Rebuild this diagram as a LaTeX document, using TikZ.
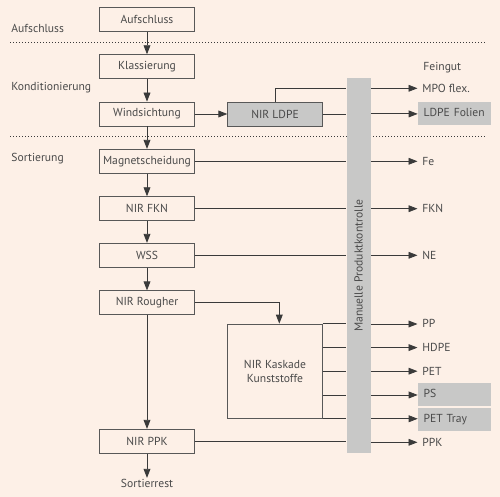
\documentclass[tikz,border=0pt]{standalone}
\usepackage{fontspec}
\setmainfont{PT Sans}
\usetikzlibrary{arrows.meta,calc}
\definecolor{bg}{HTML}{FDF0E7}
\definecolor{txt}{HTML}{4A4A4A}
\definecolor{ln}{HTML}{3A3A3A}
\definecolor{gr}{HTML}{C8C8C7}
\begin{document}
\begin{tikzpicture}[x=1pt,y=-1pt,
  font=\fontsize{11.6}{13}\selectfont, text=txt,
  line width=0.8pt, draw=ln,
  box/.style={draw=ln!85, line width=0.8pt, minimum width=94.5pt, minimum height=24pt, inner sep=0pt},
  gbox/.style={box, fill=gr},
  arr/.style={draw=ln, -{Triangle[length=9pt,width=6.8pt]}},
  ln/.style={draw=ln},
  dot/.style={draw=ln, line width=0.9pt, dash pattern=on 0.9pt off 2.1pt},
  outlab/.style={anchor=west, inner xsep=4.5pt, inner ysep=0pt, text height=7.8pt, text depth=0pt},
  sidelab/.style={anchor=base west, inner sep=0pt},
  outbox/.style={anchor=west, fill=gr, minimum height=23.2pt, text width=61.6pt, inner xsep=5.5pt, inner ysep=0pt, align=left, text height=7.8pt, text depth=2pt}
]
\fill[bg] (0,0) rectangle (500,497);
\useasboundingbox (0,0) rectangle (500,497);

% section labels
\node[sidelab] (l1) at (11,32.3) {Aufschluss};
\node[sidelab] (l2) at (11,91) {Konditionierung};
\node[sidelab] (l3) at (11,161) {Sortierung};

% dotted separators
\coordinate (d1a) at (10,42.7); \coordinate (d1b) at (486,42.7);
\coordinate (d2a) at (10,136);  \coordinate (d2b) at (486,136);
\draw[dot] (d1a) -- (d1b);
\draw[dot] (d2a) -- (d2b);

% main chain
\node[box] (auf)  at (147,19.5)  {Aufschluss};
\node[box] (kla)  at (147,66.7)  {Klassierung};
\node[box] (wind) at (147,114)   {Windsichtung};
\node[box] (mag)  at (147,161.3) {Magnetscheidung};
\node[box] (fkn)  at (147,208.7) {NIR FKN};
\node[box] (wss)  at (147,255.3) {WSS};
\node[box] (roug) at (147,302.8) {NIR Rougher};
\node[box] (ppk)  at (147,441.3) {NIR PPK};
\node[inner sep=1pt] (rest) at (147,483.5) {Sortierrest};

\draw[arr] (auf) -- (kla);
\draw[arr] (kla) -- (wind);
\draw[arr] (wind) -- (mag);
\draw[arr] (mag) -- (fkn);
\draw[arr] (fkn) -- (wss);
\draw[arr] (wss) -- (roug);
\draw[arr] (roug) -- (ppk);
\draw[arr] (ppk) -- (rest);

% side boxes
\node[gbox] (ldpe) at (275,114) {NIR LDPE};
\node[box, minimum height=94.3pt, align=center, font=\fontsize{11.6}{14}\selectfont] (kask) at (275,371.2) {NIR Kaskade\\Kunststoffe};

% bar
\node[fill=gr, minimum width=24pt, minimum height=375pt, inner sep=0pt] (bar) at (358.7,265.8) {};
\node[rotate=90, inner sep=0pt] (barlab) at (bar.center) {Manuelle Produktkontrolle};

% outputs
\node[sidelab] (fein) at (423,70.7) {Feingut};
\node[outlab] (mpo)  at (417.5,88.3)  {MPO flex.};
\node[outbox] (ldpef) at (417.7,113.9) {LDPE Folien};
\node[outlab] (fe)   at (417.5,161.3) {Fe};
\node[outlab] (fknout) at (417.5,208.7) {FKN};
\node[outlab] (ne)   at (417.5,255.3) {NE};
\node[outlab] (pp)   at (417.5,324)   {PP};
\node[outlab] (hdpe) at (417.5,347.6) {HDPE};
\node[outlab] (pet)  at (417.5,371.2) {PET};
\node[outbox] (ps)   at (417.7,394.6) {PS};
\node[outbox] (pett) at (417.7,419.4) {PET Tray};
\node[outlab] (ppkout) at (417.5,442.3) {PPK};

% LDPE connections
\draw[arr] (wind) -- (ldpe);
\draw[ln] (ldpe.east) -- (ldpe.east -| bar.west);
\draw[ln] (ldpe.north) |- (bar.west |- mpo.west);

% lines into the bar
\draw[ln] (mag.east) -- (mag.east -| bar.west);
\draw[ln] (fkn.east) -- (fkn.east -| bar.west);
\draw[ln] (wss.east) -- (wss.east -| bar.west);
\draw[ln] (ppk.east) -- (ppk.east -| bar.west);
\draw[arr] (roug.east) -| ([xshift=4.3pt]kask.north);

\coordinate (k1) at (kask.north east);
\coordinate (k2) at ($(kask.north east)!0.25!(kask.south east)$);
\coordinate (k3) at ($(kask.north east)!0.5!(kask.south east)$);
\coordinate (k4) at ($(kask.north east)!0.75!(kask.south east)$);
\coordinate (k5) at (kask.south east);
\foreach \k in {k1,k2,k3,k4,k5} \draw[ln] (\k) -- (\k -| bar.west);

% arrows out of the bar
\draw[arr] (bar.east |- mpo.west) -- (mpo.west);
\draw[arr] (bar.east |- ldpef.west) -- (ldpef.west);
\draw[arr] (bar.east |- fe.west) -- (fe.west);
\draw[arr] (bar.east |- fknout.west) -- (fknout.west);
\draw[arr] (bar.east |- ne.west) -- (ne.west);
\draw[arr] (bar.east |- pp.west) -- (pp.west);
\draw[arr] (bar.east |- hdpe.west) -- (hdpe.west);
\draw[arr] (bar.east |- pet.west) -- (pet.west);
\draw[arr] (k4 -| bar.east) -- (k4 -| ps.west);
\draw[arr] (k5 -| bar.east) -- (k5 -| pett.west);
\draw[arr] (bar.east |- ppkout.west) -- (ppkout.west);
\end{tikzpicture}
\end{document}
